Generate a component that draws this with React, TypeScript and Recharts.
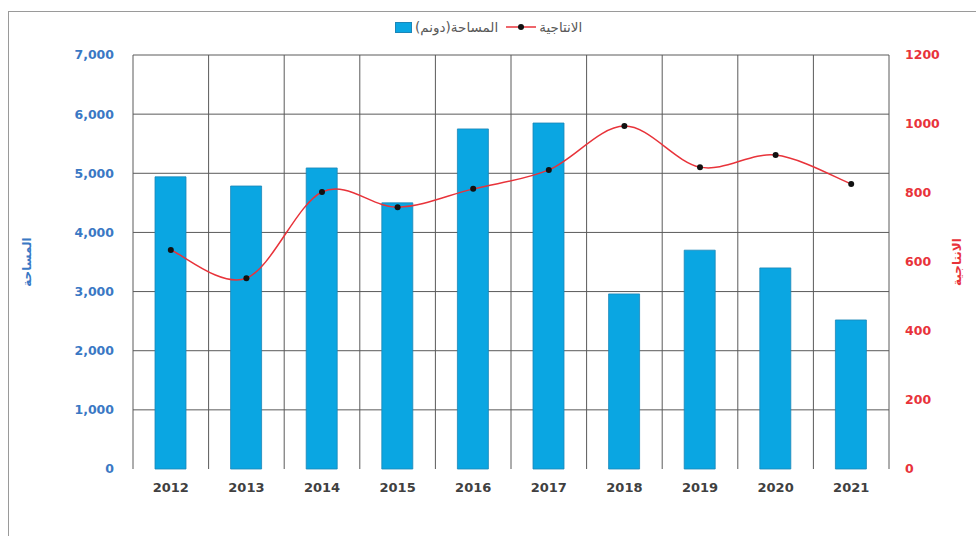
import React from 'react'
import {
  ComposedChart,
  Bar,
  Line,
  XAxis,
  YAxis,
  CartesianGrid
} from 'recharts'

const years = ['2012', '2013', '2014', '2015', '2016', '2017', '2018', '2019', '2020', '2021']
const area = [4940, 4785, 5090, 4500, 5750, 5850, 2960, 3700, 3400, 2520]
const production = [635, 553, 803, 759, 812, 867, 994, 875, 910, 826]
const areaTicks = [0, 1000, 2000, 3000, 4000, 5000, 6000, 7000]
const productionTicks = [0, 200, 400, 600, 800, 1000, 1200]

const AREA_NAME = 'المساحة(دونم)'
const PRODUCTION_NAME = 'الانتاجية'
const AREA_TITLE = 'المساحة'
const PRODUCTION_TITLE = 'الانتاجية'

const data = years.map((year, i) => ({ year, area: area[i], production: production[i] }))

const BLUE = '#0AA6E2'
const AXIS_BLUE = '#3A78C4'
const RED = '#E8333A'
const GRID = '#5a5a5a'
const FONT = '"DejaVu Sans", sans-serif'

// excel-style smoothing: bezier with control points from neighbours (catmull-rom)
const smoothCurve = (context: any) => {
  let pts: [number, number][] = []
  return {
    areaStart() {},
    areaEnd() {},
    lineStart() {
      pts = []
    },
    lineEnd() {
      const n = pts.length
      if (!n) return
      context.moveTo(pts[0][0], pts[0][1])
      for (let i = 0; i < n - 1; i++) {
        const p0 = pts[Math.max(i - 1, 0)]
        const p1 = pts[i]
        const p2 = pts[i + 1]
        const p3 = pts[Math.min(i + 2, n - 1)]
        context.bezierCurveTo(
          p1[0] + (p2[0] - p0[0]) / 6,
          p1[1] + (p2[1] - p0[1]) / 6,
          p2[0] - (p3[0] - p1[0]) / 6,
          p2[1] - (p3[1] - p1[1]) / 6,
          p2[0],
          p2[1]
        )
      }
    },
    point(x: number, y: number) {
      pts.push([+x, +y])
    }
  }
}

const tickStyle = { fontFamily: FONT, fontWeight: 700, fontSize: 12.5 }

export default function App() {
  return (
    <div style={{ position: 'fixed', left: 0, top: 0, width: 976, height: 536, background: '#fff' }}>
      <div
        style={{
          position: 'absolute',
          left: 8,
          top: 11,
          right: 0,
          bottom: 0,
          borderLeft: '1.5px solid #9a9a9a',
          borderTop: '1.5px solid #9a9a9a'
        }}
      />
      <div
        style={{
          position: 'absolute',
          left: 395,
          top: 18,
          height: 18,
          display: 'flex',
          alignItems: 'center',
          fontFamily: FONT,
          fontSize: 13.5,
          color: '#595959'
        }}
      >
        <span style={{ width: 15, height: 9, background: BLUE, border: '1px solid #1b86b8', marginRight: 3 }} />
        <span style={{ direction: 'rtl' }}>{AREA_NAME}</span>
        <svg width={30} height={10} style={{ marginLeft: 8, marginRight: 3 }}>
          <line x1={0} y1={5} x2={30} y2={5} stroke={RED} strokeWidth={1.5} />
          <circle cx={15} cy={5} r={3} fill="#111" />
        </svg>
        <span style={{ direction: 'rtl' }}>{PRODUCTION_NAME}</span>
      </div>
      <ComposedChart
        width={976}
        height={536}
        data={data}
        margin={{ top: 55, right: 27, bottom: 37, left: 73 }}
        style={{ position: 'absolute', left: 0, top: 0 }}
      >
        <CartesianGrid
          stroke={GRID}
          strokeWidth={1}
          horizontalCoordinatesGenerator={({ offset }: any) =>
            areaTicks.slice(1).map((_, i) => offset.top + (i * offset.height) / (areaTicks.length - 1))
          }
          verticalCoordinatesGenerator={({ offset }: any) =>
            Array.from({ length: years.length + 1 }, (_, i) => offset.left + (i * offset.width) / years.length)
          }
        />
        <XAxis
          dataKey="year"
          height={30}
          axisLine={false}
          tickLine={false}
          tickMargin={8}
          tick={{ ...tickStyle, fontSize: 13, fill: '#404040' }}
        />
        <YAxis
          yAxisId="left"
          width={60}
          domain={[0, 7000]}
          ticks={areaTicks}
          axisLine={false}
          tickLine={false}
          tickMargin={13}
          tickFormatter={(v: number) => v.toLocaleString('en-US')}
          tick={{ ...tickStyle, fill: AXIS_BLUE }}
          label={{
            value: AREA_TITLE,
            angle: -90,
            position: 'left',
            offset: 46,
            style: { fontFamily: FONT, fontWeight: 700, fontSize: 12, fill: AXIS_BLUE, textAnchor: 'middle' }
          }}
        />
        <YAxis
          yAxisId="right"
          orientation="right"
          width={60}
          domain={[0, 1200]}
          ticks={productionTicks}
          axisLine={false}
          tickLine={false}
          tickMargin={10}
          tick={{ ...tickStyle, fill: RED }}
          label={{
            value: PRODUCTION_TITLE,
            angle: -90,
            position: 'right',
            offset: 8,
            style: { fontFamily: FONT, fontWeight: 700, fontSize: 12, fill: RED, textAnchor: 'middle' }
          }}
        />
        <Bar
          yAxisId="left"
          dataKey="area"
          name={AREA_NAME}
          fill={BLUE}
          stroke="#1b86b8"
          strokeWidth={0.8}
          barSize={31}
          isAnimationActive={false}
        />
        <Line
          yAxisId="right"
          dataKey="production"
          name={PRODUCTION_NAME}
          type={smoothCurve as any}
          stroke={RED}
          strokeWidth={1.5}
          dot={{ r: 3, fill: '#111', stroke: 'none' }}
          activeDot={false}
          isAnimationActive={false}
        />
      </ComposedChart>
    </div>
  )
}
